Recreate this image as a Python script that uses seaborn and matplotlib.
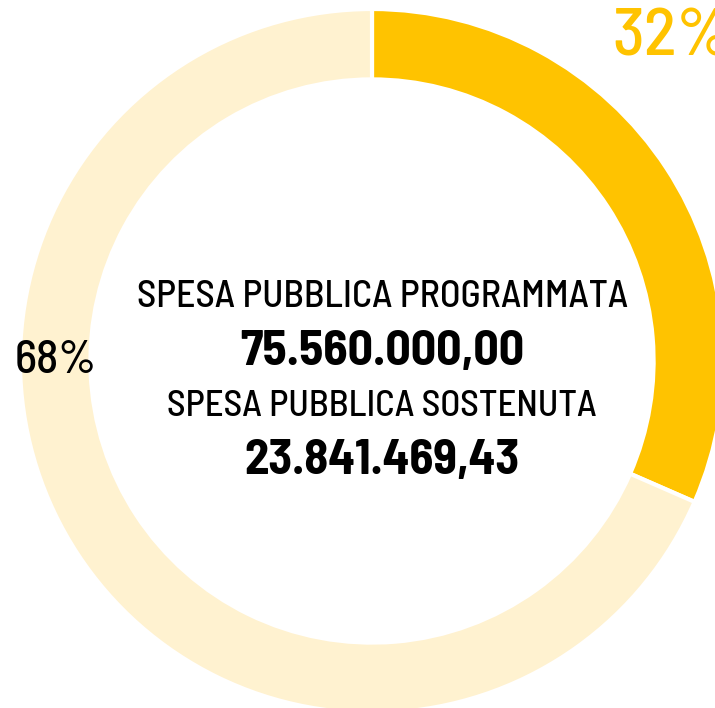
import matplotlib
matplotlib.use("Agg")
import matplotlib.pyplot as plt
import seaborn as sns

# spesa pubblica
programmata = 75560000.00
sostenuta = 23841469.43
labels = ["Sostenuta", "Residua"]
values = [sostenuta, programmata - sostenuta]
colors = ["#FFC300", "#FFF2D0"]

sns.set_theme(style="white")
plt.rcParams["font.family"] = ["Barlow Semi Condensed", "Roboto Condensed", "DejaVu Sans"]


def fmt_it(v):
    s = f"{v:,.2f}"
    return s.replace(",", "X").replace(".", ",").replace("X", ".")


fig = plt.figure(figsize=(7.15, 7.08), dpi=100)
ax = fig.add_axes([0, 0, 1, 1])
ax.pie(values, colors=colors, startangle=90, counterclock=False, radius=1.0,
       wedgeprops=dict(width=0.2, edgecolor="white", linewidth=3))
ax.set_xlim(-372 / 352, (715 - 372) / 352)
ax.set_ylim(-(708 - 361) / 352, 361 / 352)
ax.set_aspect("auto")
ax.axis("off")

pct = [v / programmata * 100 for v in values]
t32 = ax.text(0.682, 0.915, f"{pct[0]:.0f}%", color=colors[0], fontsize=45,
              ha="left", va="center", fontweight="medium")
t68 = ax.text(-1.014, 0.0, f"{pct[1]:.0f}%", color="black", fontsize=33,
              ha="left", va="center", fontweight="medium")

cx = 10 / 352
center = [
    ("SPESA PUBBLICA PROGRAMMATA", 297, "medium", 491),
    (fmt_it(programmata), 352, "bold", 284),
    ("SPESA PUBBLICA SOSTENUTA", 406, "medium", 430),
    (fmt_it(sostenuta), 461, "bold", 276),
]
texts = []
for s, ypx, w, target in center:
    t = ax.text(cx, (361 - ypx) / 352, s, fontsize=28, fontweight=w,
                ha="center", va="center", color="black")
    texts.append((t, target))
texts.append((t68, 82))

# size texts to the widths seen in the reference
fig.canvas.draw()
r = fig.canvas.get_renderer()
for t, target in texts:
    wpx = t.get_window_extent(r).width
    t.set_fontsize(t.get_fontsize() * target / wpx)
t32.set_fontsize(t68.get_fontsize() * 1.45)

fig.savefig("out.png", dpi=100, facecolor="white")
